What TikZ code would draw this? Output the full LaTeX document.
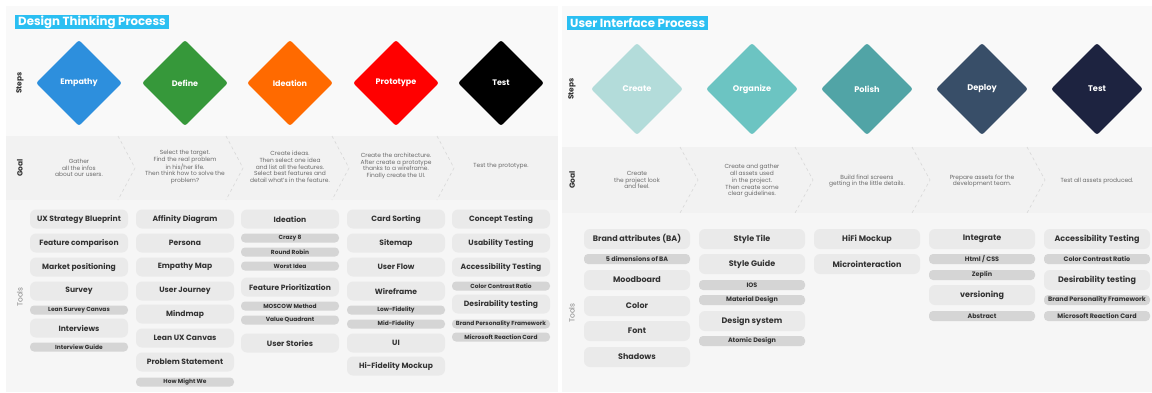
\documentclass[tikz,border=0pt]{standalone}
\usepackage{fontspec}
\setmainfont{Poppins}
\usetikzlibrary{shapes.geometric}
\definecolor{bandS}{HTML}{F9F9F9}
\definecolor{bandG}{HTML}{F2F2F2}
\definecolor{bandT}{HTML}{F6F6F6}
\definecolor{pillA}{HTML}{EAEAEA}
\definecolor{pillB}{HTML}{D5D5D5}
\definecolor{titleC}{HTML}{2BBFF2}
\definecolor{txtD}{HTML}{333333}
\definecolor{txtG}{HTML}{6A6A6A}
\definecolor{chev}{HTML}{D8D8D8}
\definecolor{cEmp}{HTML}{2D8FDD}
\definecolor{cDef}{HTML}{36983A}
\definecolor{cIde}{HTML}{FF6A00}
\definecolor{cPro}{HTML}{FF0000}
\definecolor{cTes}{HTML}{000000}
\definecolor{cCre}{HTML}{B3DCDA}
\definecolor{cOrg}{HTML}{6CC4C2}
\definecolor{cPol}{HTML}{51A4A6}
\definecolor{cDep}{HTML}{384E68}
\definecolor{cTe2}{HTML}{1D2340}
\tikzset{
  titlebox/.style={fill=titleC, text=white, anchor=west, inner xsep=3pt, inner ysep=0pt, minimum height=14pt, font=\bfseries\fontsize{11.8}{13}\selectfont},
  rowlab/.style={rotate=90, text=txtD, font=\bfseries\fontsize{7.5}{8}\selectfont},
  toollab/.style={rotate=90, text=txtG!80, font=\fontsize{7.5}{8}\selectfont},
  dia/.style={diamond, aspect=1, inner sep=0pt, minimum width=86pt, minimum height=86pt, rounded corners=2.5pt, text=white, font=\bfseries\fontsize{8}{9}\selectfont},
  diaR/.style={dia, minimum width=92pt, minimum height=92pt, font=\bfseries\fontsize{8.2}{9}\selectfont},
  goal/.style={align=center, text=txtG, font=\fontsize{5.9}{6.7}\selectfont},
  chevline/.style={draw=chev, dashed, line width=0.6pt},
  big/.style={fill=pillA, rounded corners=6pt, minimum width=98pt, minimum height=19pt, inner sep=0pt, text=txtD, font=\bfseries\fontsize{7.6}{8}\selectfont},
  small/.style={fill=pillB, rounded corners=4pt, minimum width=98pt, minimum height=9pt, inner sep=0pt, text=txtD, font=\bfseries\fontsize{5.9}{6}\selectfont},
  bigR/.style={big, minimum width=106pt, minimum height=20pt, font=\bfseries\fontsize{8}{9}\selectfont},
  smallR/.style={small, minimum width=106pt, minimum height=10pt, font=\bfseries\fontsize{6.4}{7}\selectfont},
}
\begin{document}
\begin{tikzpicture}[x=1pt,y=-1pt]
\useasboundingbox (0,0) rectangle (1152,392);
\fill[white] (0,0) rectangle (1152,392);
% left panel bands
\fill[bandS] (6,6) rectangle (558,136);
\fill[bandG] (6,136) rectangle (558,200);
\fill[bandT] (6,200) rectangle (558,392);
% right panel bands
\fill[bandS] (562,6) rectangle (1152,147);
\fill[bandG] (562,147) rectangle (1152,213);
\fill[bandT] (562,213) rectangle (1152,392);

% titles
\node[titlebox] (t1) at (15,22) {Design Thinking Process};
\node[titlebox] (t2) at (567,23) {User Interface Process};

% row labels
\node[rowlab] (l1) at (20,83) {Steps};
\node[rowlab] (l2) at (20,168) {Goal};
\node[toollab] (l3) at (20,297) {Tools};
\node[rowlab] (r1) at (572,89) {Steps};
\node[rowlab] (r2) at (572,180) {Goal};
\node[toollab] (r3) at (572,313) {Tools};

% left diamonds
\node[dia, fill=cEmp] (d1) at (79,83) {Empathy};
\node[dia, fill=cDef] (d2) at (185,83) {Define};
\node[dia, fill=cIde] (d3) at (290,83) {Ideation};
\node[dia, fill=cPro] (d4) at (396,83) {Prototype};
\node[dia, fill=cTes] (d5) at (501,83) {Test};
% right diamonds
\node[diaR, fill=cCre] (e1) at (637,89) {Create};
\node[diaR, fill=cOrg] (e2) at (752,89) {Organize};
\node[diaR, fill=cPol] (e3) at (867,89) {Polish};
\node[diaR, fill=cDep] (e4) at (982,89) {Deploy};
\node[diaR, fill=cTe2] (e5) at (1097,89) {Test};

% chevrons left
\foreach \cx in {118,226,332,437}{
  \draw[chevline] (\cx,136) -- (\cx+17,168) -- (\cx,200);
}
% chevrons right
\foreach \cx in {680,795,912,1027}{
  \draw[chevline] (\cx,147) -- (\cx+18,180) -- (\cx,213);
}

% goal texts left
\node[goal] (g1) at (79,168) {Gather\\all the infos\\about our users.};
\node[goal] (g2) at (185,167) {Select the target.\\Find the real problem\\in his/her life.\\Then think how to solve the\\problem?};
\node[goal] (g3) at (290,167) {Create ideas.\\Then select one idea\\and list all the features.\\Select best features and\\detail what's in the feature.};
\node[goal] (g4) at (396,166) {Create the architecture.\\After create a prototype\\thanks to a wireframe.\\Finally create the UI.};
\node[goal] (g5) at (501,166) {Test the prototype.};
% goal texts right
\node[goal] (h1) at (637,180) {Create\\the project look\\and feel.};
\node[goal] (h2) at (752,181) {Create and gather\\all assets used\\in the project.\\Then create some\\clear guidelines.};
\node[goal] (h3) at (867,181) {Build final screens\\getting in the little details.};
\node[goal] (h4) at (982,181) {Prepare assets for the\\development team.};
\node[goal] (h5) at (1097,181) {Test all assets produced.};

% tools left col 1
\node[big] (a1) at (79,219) {UX Strategy Blueprint};
\node[big] (a2) at (79,243) {Feature comparison};
\node[big] (a3) at (79,267) {Market positioning};
\node[big] (a4) at (79,291) {Survey};
\node[small] (a5) at (79,310) {Lean Survey Canvas};
\node[big] (a6) at (79,328) {Interviews};
\node[small] (a7) at (79,347) {Interview Guide};
% col 2
\node[big] (b1) at (185,219) {Affinity Diagram};
\node[big] (b2) at (185,243) {Persona};
\node[big] (b3) at (185,267) {Empathy Map};
\node[big] (b4) at (185,291) {User Journey};
\node[big] (b5) at (185,314) {Mindmap};
\node[big] (b6) at (185,338) {Lean UX Canvas};
\node[big] (b7) at (185,362) {Problem Statement};
\node[small] (b8) at (185,382) {How Might We};
% col 3
\node[big] (c1) at (290,219) {Ideation};
\node[small] (c2) at (290,238) {Crazy 8};
\node[small] (c3) at (290,252) {Round Robin};
\node[small] (c4) at (290,266) {Worst Idea};
\node[big] (c5) at (290,287) {Feature Prioritization};
\node[small] (c6) at (290,306) {MOSCOW Method};
\node[small] (c7) at (290,320) {Value Quadrant};
\node[big] (c8) at (290,343) {User Stories};
% col 4
\node[big] (f1) at (396,219) {Card Sorting};
\node[big] (f2) at (396,243) {Sitemap};
\node[big] (f3) at (396,267) {User Flow};
\node[big] (f4) at (396,291) {Wireframe};
\node[small] (f5) at (396,310) {Low-Fidelity};
\node[small] (f6) at (396,324) {Mid-Fidelity};
\node[big] (f7) at (396,343) {UI};
\node[big] (f8) at (396,366) {Hi-Fidelity Mockup};
% col 5
\node[big] (k1) at (501,219) {Concept Testing};
\node[big] (k2) at (501,243) {Usability Testing};
\node[big] (k3) at (501,267) {Accessibility Testing};
\node[small] (k4) at (501,286) {Color Contrast Ratio};
\node[big] (k5) at (501,304) {Desirability testing};
\node[small] (k6) at (501,324) {Brand Personality Framework};
\node[small] (k7) at (501,337) {Microsoft Reaction Card};

% tools right col 1
\node[bigR] (m1) at (637,239) {Brand attributes (BA)};
\node[smallR] (m2) at (637,259) {5 dimensions of BA};
\node[bigR] (m3) at (637,280) {Moodboard};
\node[bigR] (m4) at (637,306) {Color};
\node[bigR] (m5) at (637,331) {Font};
\node[bigR] (m6) at (637,357) {Shadows};
% col 2
\node[bigR] (n1) at (752,239) {Style Tile};
\node[bigR] (n2) at (752,264) {Style Guide};
\node[smallR] (n3) at (752,285) {IOS};
\node[smallR] (n4) at (752,300) {Material Design};
\node[bigR] (n5) at (752,321) {Design system};
\node[smallR] (n6) at (752,341) {Atomic Design};
% col 3
\node[bigR] (o1) at (867,239) {HiFi Mockup};
\node[bigR] (o2) at (867,264) {Microinteraction};
% col 4
\node[bigR] (p1) at (982,239) {Integrate};
\node[smallR] (p2) at (982,259) {Html / CSS};
\node[smallR] (p3) at (982,275) {Zeplin};
\node[bigR] (p4) at (982,295) {versioning};
\node[smallR] (p5) at (982,316) {Abstract};
% col 5
\node[bigR] (q1) at (1097,239) {Accessibility Testing};
\node[smallR] (q2) at (1097,259) {Color Contrast Ratio};
\node[bigR] (q3) at (1097,280) {Desirability testing};
\node[smallR] (q4) at (1097,300) {Brand Personality Framework};
\node[smallR] (q5) at (1097,316) {Microsoft Reaction Card};
\end{tikzpicture}
\end{document}
